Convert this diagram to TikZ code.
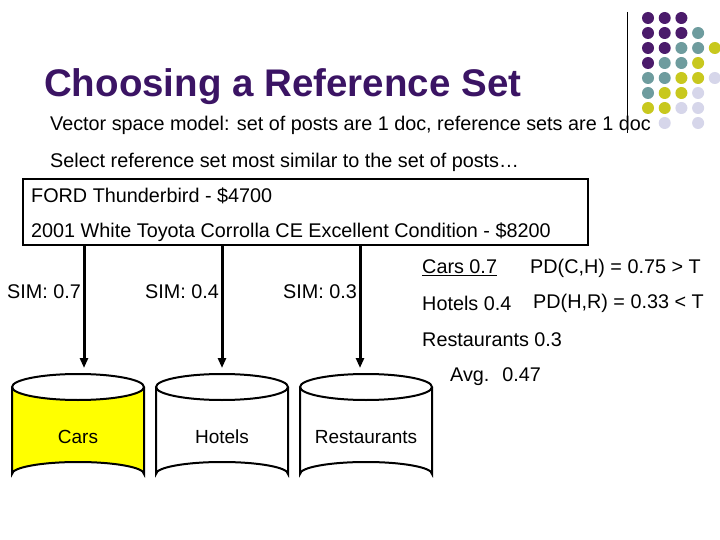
\documentclass[tikz,border=0pt]{standalone}
\usepackage{fontspec}
\setmainfont{Liberation Sans}
\usetikzlibrary{arrows.meta}
\definecolor{tpurple}{HTML}{3B1464}
\definecolor{dP}{HTML}{4B1B6B}
\definecolor{dT}{HTML}{6E9C9E}
\definecolor{dY}{HTML}{C8C81E}
\definecolor{dL}{HTML}{D6D6EA}
\definecolor{cyl}{HTML}{FFFF00}
\tikzset{
 txt/.style={anchor=west,inner sep=0pt,font=\fontsize{19.8}{22}\selectfont},
 arr/.style={line width=3pt,-{Triangle[length=10pt,width=8pt]}},
 dot/.style={circle,fill=#1,minimum size=12pt,inner sep=0pt}
}
\newcommand{\cylshape}[4]{% x center, fill, name, label
 \fill[#2] (#1-66,387) -- (#1-66,474) arc[start angle=180,end angle=360,x radius=66,y radius=12] -- (#1+66,387) arc[start angle=0,end angle=180,x radius=66,y radius=13] -- cycle;
 \draw[line width=2pt] (#1-66,387) -- (#1-66,474) arc[start angle=180,end angle=360,x radius=66,y radius=12] -- (#1+66,387);
 \draw[line width=2pt] (#1,387) ellipse[x radius=66,y radius=13];
 \coordinate (#3) at (#1,371);
 \node[font=\fontsize{19}{22}\selectfont] (#3l) at (#1,437) {#4};
}
\begin{document}
\begin{tikzpicture}[x=1pt,y=-1pt]
\useasboundingbox (0,0) rectangle (720,540);
\fill[white] (0,0) rectangle (720,540);
% dots
\foreach \c/\r/\col in {0/0/dP,1/0/dP,2/0/dP,
 0/1/dP,1/1/dP,2/1/dP,3/1/dT,
 0/2/dP,1/2/dP,2/2/dT,3/2/dT,4/2/dY,
 0/3/dP,1/3/dT,2/3/dT,3/3/dY,
 0/4/dT,1/4/dT,2/4/dY,3/4/dY,4/4/dL,
 0/5/dT,1/5/dY,2/5/dY,3/5/dL,
 0/6/dY,1/6/dY,2/6/dL,3/6/dL,
 1/7/dL,3/7/dL}
 \node[dot=\col] at ({648+16.7*\c},{18+15*\r}) {};
\draw[line width=1pt] (627,12) -- (627,133);
\node[anchor=west,inner sep=0pt,text=tpurple,font=\fontsize{38.5}{42}\bfseries\selectfont] (title) at (44,87) {Choosing a Reference Set};
\node[txt] (l1) at (50,125) {Vector space model: set of posts are 1 doc, reference sets are 1 doc};
\node[txt] (l2) at (50,162) {Select reference set most similar to the set of posts…};
\draw[line width=2pt] (23,179) rectangle (588,245);
\node[txt] (b1) at (31,196) {FORD Thunderbird - \$4700};
\node[txt] (b2) at (31,232) {2001 White Toyota Corrolla CE Excellent Condition - \$8200};
\cylshape{78}{cyl}{cars}{Cars}
\cylshape{222}{white}{hotels}{Hotels}
\cylshape{366}{white}{rest}{Restaurants}
\coordinate (s1) at (84,245);
\coordinate (s2) at (222,245);
\coordinate (s3) at (360,245);
\draw[arr] (s1) -- (84,368);
\draw[arr] (s2) -- (222,368);
\draw[arr] (s3) -- (360,368);
\node[txt] (sim1) at (7,292) {SIM: 0.7};
\node[txt] (sim2) at (145,292) {SIM: 0.4};
\node[txt] (sim3) at (283,292) {SIM: 0.3};
\node[txt] (r1) at (422,268) {\underline{Cars 0.7}};
\node[txt] (r2) at (530,268) {PD(C,H) = 0.75 > T};
\node[txt] (r3) at (422,303) {Hotels 0.4};
\node[txt] (r4) at (533,303) {PD(H,R) = 0.33 < T};
\node[txt] (r5) at (422,340) {Restaurants 0.3};
\node[txt] (r6) at (450,377) {Avg.~ 0.47};
\end{tikzpicture}
\end{document}
